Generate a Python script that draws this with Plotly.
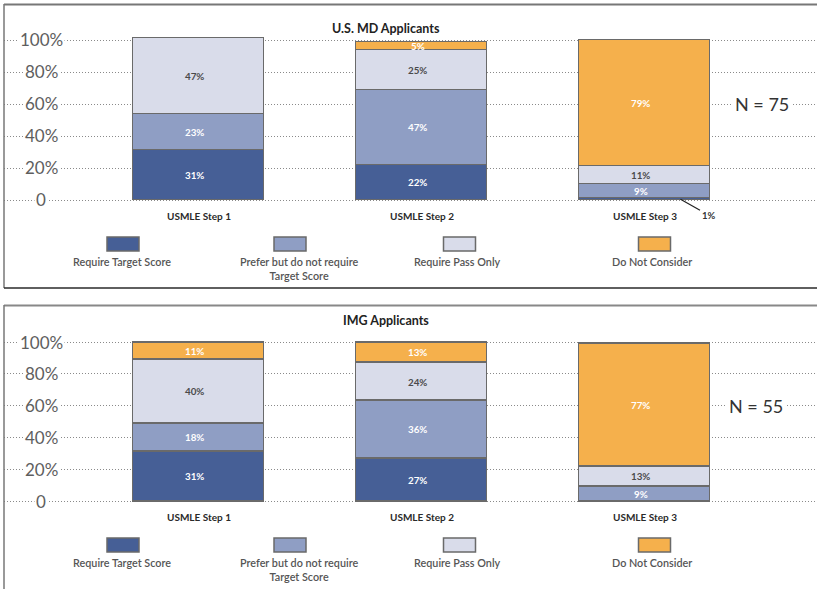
import plotly.graph_objects as go

W, H = 817, 589

# ---------------- data ----------------
categories = ["USMLE Step 1", "USMLE Step 2", "USMLE Step 3"]
series_names = ["Require Target Score", "Prefer but do not require<br>Target Score",
                "Require Pass Only", "Do Not Consider"]

us_target = [31, 22, 1]
us_prefer = [23, 47, 9]
us_pass = [47, 25, 11]
us_dnc = [0, 5, 79]

img_target = [31, 27, 0]
img_prefer = [18, 36, 9]
img_pass = [40, 24, 13]
img_dnc = [11, 13, 77]

ytick_vals = [0, 20, 40, 60, 80, 100]
ytick_text = ["0", "20%", "40%", "60%", "80%", "100%"]

panel_titles = ["U.S. MD Applicants", "IMG Applicants"]
panel_n = ["N = 75", "N = 55"]

# ---------------- style ----------------
colors = ["#465f96", "#8f9ec4", "#d9dcea", "#f5b04c"]
label_colors = ["#ffffff", "#ffffff", "#4a4a4a", "#ffffff"]
outline = "#6a6a6a"
FONT = "Lato"

def px_x(px):
    return px / W

def px_y(py):
    return 1 - py / H

# panel geometry in pixels: top, bottom, zero line, 100% line
panels = [
    dict(top=4, bottom=288, zero=200, hundred=40, cat_y=216.5, title_y=19,
         n_x=762, leg_box=(237, 251), leg_text=252.5, yref="y", xref="x"),
    dict(top=305.5, bottom=589, zero=501, hundred=342, cat_y=517, title_y=320,
         n_x=756, leg_box=(538, 552), leg_text=553.5, yref="y2", xref="x2"),
]
panel_data = [
    [us_target, us_prefer, us_pass, us_dnc],
    [img_target, img_prefer, img_pass, img_dnc],
]

bar_c0, bar_step, bar_w = 198.5, 223.0, 131.0
x_lo = (4 - bar_c0) / bar_step
x_hi = (W - bar_c0) / bar_step
bar_width = bar_w / bar_step

leg_box_x = [123, 290, 459.5, 654.5]
leg_text_x = [122, 299, 457, 652]

fig = go.Figure()
annotations = []
shapes = []
layout_axes = {}

for p, (geo, data) in enumerate(zip(panels, panel_data)):
    scale = (geo["zero"] - geo["hundred"]) / 100.0
    y_lo = -(geo["bottom"] - geo["zero"]) / scale
    y_hi = (geo["zero"] - geo["top"]) / scale
    def v_of(py, g=geo, s=scale):
        return (g["zero"] - py) / s

    xa = "xaxis" if p == 0 else "xaxis2"
    ya = "yaxis" if p == 0 else "yaxis2"
    layout_axes[xa] = dict(domain=[px_x(4), 1], range=[x_lo, x_hi], anchor=geo["yref"],
                           showticklabels=False, showgrid=False, zeroline=False,
                           showline=False, type="category",
                           categoryorder="array", categoryarray=categories)
    layout_axes[ya] = dict(domain=[px_y(geo["bottom"]), px_y(geo["top"])],
                           range=[y_lo, y_hi], anchor=geo["xref"],
                           tickvals=ytick_vals, showticklabels=False, showgrid=True,
                           gridcolor="#8a8a8a", griddash="1px,2px", gridwidth=1,
                           zeroline=False, showline=False)

    for i, vals in enumerate(data):
        fig.add_trace(go.Bar(
            x=categories, y=vals, width=bar_width,
            marker=dict(color=colors[i], line=dict(color=outline, width=1.5)),
            xaxis=geo["xref"], yaxis=geo["yref"], showlegend=False,
            hoverinfo="skip"))

    # segment labels
    for j, cat in enumerate(categories):
        base = 0
        for i, vals in enumerate(data):
            v = vals[j]
            if v >= 3:
                annotations.append(dict(
                    x=cat, y=base + v / 2, xref=geo["xref"], yref=geo["yref"],
                    xanchor="center", text=f"{v}%", showarrow=False, xshift=-4,
                    font=dict(family=FONT, size=9.8, color=label_colors[i], weight=700)))
            elif v > 0:
                annotations.append(dict(
                    x=cat, y=base + v / 2, xref=geo["xref"], yref=geo["yref"],
                    xanchor="center",
                    text=f"{v}%", showarrow=True, arrowhead=0, arrowwidth=1.2,
                    arrowcolor="#222222", ax=28, ay=16, xshift=36, standoff=0,
                    font=dict(family=FONT, size=9.5, color="#333333", weight=700)))
            base += v

        annotations.append(dict(
            x=cat, y=v_of(geo["cat_y"]), xref=geo["xref"], yref=geo["yref"],
            xanchor="center", text=cat, showarrow=False,
            font=dict(family=FONT, size=10, color="#2a2a2a", weight=700)))

    # y tick labels (white background over dotted gridlines)
    for tv, tt in zip(ytick_vals, ytick_text):
        annotations.append(dict(
            x=px_x(41), y=tv, xref="paper", yref=geo["yref"], text=tt,
            xanchor="center", showarrow=False, bgcolor="#ffffff", borderpad=1,
            font=dict(family=FONT, size=17, color="#5e5e5e", weight=400)))

    # N label
    annotations.append(dict(
        x=px_x(geo["n_x"]), y=60, xref="paper", yref=geo["yref"], text=panel_n[p],
        xanchor="center", showarrow=False, bgcolor="#ffffff", borderpad=2,
        font=dict(family=FONT, size=18, color="#333333", weight=400)))

    # title
    annotations.append(dict(
        x=px_x(386), y=px_y(geo["title_y"]), xref="paper", yref="paper",
        xanchor="center", text=panel_titles[p], showarrow=False,
        font=dict(family=FONT, size=12.5, color="#222222", weight=700)))

    # legend swatches and labels
    b0, b1 = geo["leg_box"]
    for i in range(4):
        shapes.append(dict(type="rect", xref="paper", yref="paper",
                           x0=px_x(leg_box_x[i] - 16), x1=px_x(leg_box_x[i] + 16),
                           y0=px_y(b1), y1=px_y(b0), fillcolor=colors[i],
                           line=dict(color=outline, width=1.5)))
        annotations.append(dict(
            x=px_x(leg_text_x[i]), y=px_y(geo["leg_text"]), xref="paper", yref="paper",
            xanchor="center", yanchor="top", text=series_names[i], showarrow=False,
            align="center",
            font=dict(family=FONT, size=10.8, color="#555555", weight=600)))

# panel borders
shapes += [
    dict(type="line", xref="paper", yref="paper", x0=px_x(4), x1=1,
         y0=px_y(4.5), y1=px_y(4.5), line=dict(color="#777777", width=2)),
    dict(type="line", xref="paper", yref="paper", x0=px_x(4), x1=px_x(4),
         y0=px_y(4), y1=px_y(288), line=dict(color="#777777", width=1.5)),
    dict(type="line", xref="paper", yref="paper", x0=px_x(4), x1=1,
         y0=px_y(288), y1=px_y(288), line=dict(color="#2a2a2a", width=1.5)),
    dict(type="line", xref="paper", yref="paper", x0=px_x(4), x1=1,
         y0=px_y(305.5), y1=px_y(305.5), line=dict(color="#888888", width=2)),
    dict(type="line", xref="paper", yref="paper", x0=px_x(4), x1=px_x(4),
         y0=px_y(305), y1=0, line=dict(color="#777777", width=1.5)),
]

fig.update_layout(
    width=W, height=H, margin=dict(l=0, r=0, t=0, b=0),
    paper_bgcolor="#ffffff", plot_bgcolor="#ffffff",
    barmode="stack", bargap=0, showlegend=False,
    annotations=annotations, shapes=shapes,
    font=dict(family=FONT),
    **layout_axes)

fig.write_html("out.html", config={"displayModeBar": False},
               post_script="document.body.style.margin='0';document.body.style.padding='0';")
